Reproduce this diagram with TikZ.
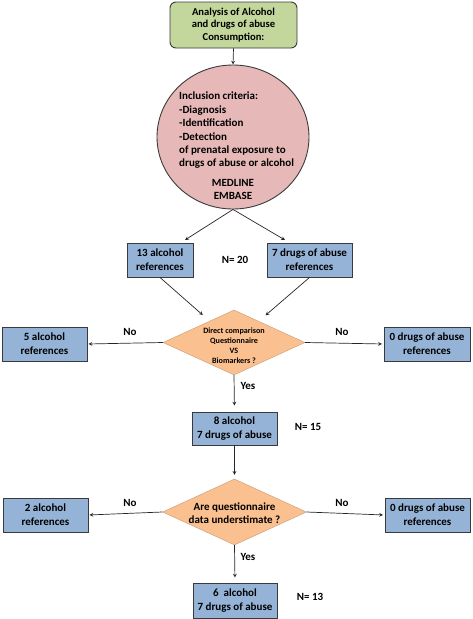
\documentclass[tikz,border=0pt]{standalone}
\usepackage{fontspec}
\setmainfont{Carlito}
\usetikzlibrary{shapes.geometric}

\definecolor{titlegreen}{HTML}{C3D69B}
\definecolor{critpink}{HTML}{E6B9B8}
\definecolor{refblue}{HTML}{95B3D7}
\definecolor{askorange}{HTML}{FAC090}
\definecolor{edgegray}{HTML}{3A3A3A}

\tikzset{
    refbox/.style={draw=edgegray, line width=0.9pt, fill=refblue, inner sep=0pt,
        align=center, font=\bfseries\fontsize{11}{14}\selectfont},
    askdiam/.style={diamond, fill=askorange, draw=askorange!80!black, line width=0.4pt,
        inner sep=0pt},
    flowarrow/.style={->, >=stealth, line width=0.7pt, black!85},
    plaintext/.style={font=\bfseries\fontsize{11}{13}\selectfont}
}

\begin{document}
\begin{tikzpicture}[x=1pt, y=-1pt]
    \useasboundingbox (0,0) rectangle (472,619);

    % title and criteria
    \node[draw=edgegray, line width=0.9pt, fill=titlegreen, rounded corners=6pt,
          minimum width=127pt, minimum height=46pt, inner sep=0pt, align=center,
          font=\bfseries\fontsize{10.6}{12.8}\selectfont] (title) at (233.5,25)
          {Analysis of Alcohol\\and drugs of abuse\\Consumption:};
    \node[ellipse, draw=edgegray, line width=0.9pt, fill=critpink,
          minimum width=152pt, minimum height=144pt, inner sep=0pt] (crit) at (233,137) {};
    \node[anchor=north west, inner sep=0pt, align=left,
          font=\bfseries\fontsize{11}{13.4}\selectfont] (crittext) at (179,92)
          {Inclusion criteria:\\-Diagnosis\\-Identification\\-Detection\\
           of prenatal exposure to\\drugs of abuse or alcohol};
    \node[inner sep=0pt, align=center, font=\bfseries\fontsize{11}{13}\selectfont]
          (base) at (233,189) {MEDLINE\\EMBASE};

    % first split
    \node[refbox, minimum width=66pt, minimum height=34pt] (alc13) at (160,260)
          {13 alcohol\\references};
    \node[refbox, minimum width=85pt, minimum height=34pt] (drug7) at (309.5,260)
          {7 drugs of abuse\\references};
    \node[plaintext] (n20) at (235,260) {N= 20};

    \coordinate (t1) at (185,240);
    \coordinate (t2) at (285,240);
    \draw[flowarrow] (crit.south) -- (t1);
    \draw[flowarrow] (crit.south) -- (t2);

    % first question
    \node[askdiam, minimum width=142pt, minimum height=65pt] (ask1) at (234,342.5) {};
    \node[inner sep=0pt, align=center, font=\bfseries\fontsize{8.1}{10}\selectfont]
          (ask1text) at (234,345.5) {Direct comparison\\Questionnaire\\VS\\Biomarkers ?};
    \node[refbox, minimum width=85pt, minimum height=34pt] (alc5) at (44.5,344)
          {5 alcohol\\references};
    \node[refbox, minimum width=86pt, minimum height=34pt] (drug0a) at (427,344)
          {0 drugs of abuse\\references};

    \draw[flowarrow, shorten >=9pt] (alc13.south) -- (ask1);
    \draw[flowarrow, shorten >=9pt] (drug7.south) -- (ask1);
    \draw[flowarrow, shorten >=1pt] (ask1.west) -- (alc5.east);
    \draw[flowarrow, shorten >=1.5pt] (ask1.east) -- (drug0a.west);
    \node[plaintext] (no1) at (130,332) {No};
    \node[plaintext] (no2) at (342,332) {No};

    % second split
    \node[refbox, minimum width=85pt, minimum height=33pt] (mix15) at (234.5,428.5)
          {8 alcohol\\7 drugs of abuse};
    \node[plaintext] (n15) at (308,427) {N= 15};
    \draw[flowarrow, shorten >=6pt] (ask1.south) -- (mix15.north);
    \node[plaintext] (yes1) at (248,386) {Yes};

    % second question
    \node[askdiam, minimum width=144pt, minimum height=66pt] (ask2) at (234.5,512) {};
    \node[inner sep=0pt, align=center, font=\bfseries\fontsize{11}{13.5}\selectfont]
          (ask2text) at (234.5,513) {Are questionnaire\\data understimate ?};
    \node[refbox, minimum width=85pt, minimum height=34pt] (alc2) at (45.5,515)
          {2 alcohol\\references};
    \node[refbox, minimum width=85pt, minimum height=34pt] (drug0b) at (427.5,515)
          {0 drugs of abuse\\references};

    \draw[flowarrow, shorten >=4pt] (mix15.south) -- (ask2.north);
    \draw[flowarrow, shorten >=1pt] (ask2.west) -- (alc2.east);
    \draw[flowarrow, shorten >=1.5pt] (ask2.east) -- (drug0b.west);
    \node[plaintext] (no3) at (130,503) {No};
    \node[plaintext] (no4) at (342,503) {No};

    % result
    \node[refbox, minimum width=84pt, minimum height=35pt] (mix13) at (235,600.5)
          {6\ \ alcohol\\7 drugs of abuse};
    \node[plaintext] (n13) at (310,597) {N= 13};
    \draw[flowarrow, shorten >=5pt] (ask2.south) -- (mix13.north);
    \node[plaintext] (yes2) at (248,557) {Yes};

    \draw[flowarrow] (title.south) -- (crit.north);
\end{tikzpicture}
\end{document}
